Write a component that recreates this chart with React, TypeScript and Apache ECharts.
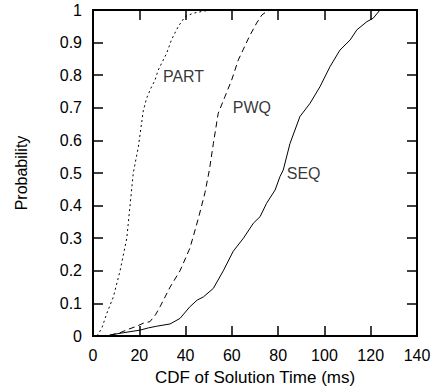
import React, { useEffect, useRef } from "react";
import * as echarts from "echarts";

const xMin = 0, xMax = 140, xStep = 20;
const yMin = 0, yMax = 1, yStep = 0.1;
const xTickValues = [0, 20, 40, 60, 80, 100, 120, 140];
const yTickValues = [0, 0.1, 0.2, 0.3, 0.4, 0.5, 0.6, 0.7, 0.8, 0.9, 1];

const partData: [number, number][] = [
  [1.7, 0], [3.8, 0.024], [6, 0.07], [8.8, 0.12], [11.7, 0.2], [14.6, 0.3],
  [17.4, 0.5], [19.6, 0.58], [21.7, 0.69], [23.2, 0.73], [25, 0.76], [26.8, 0.785],
  [28.2, 0.816], [31.8, 0.867], [34, 0.91], [36.9, 0.95], [39.8, 0.98],
  [43.3, 0.99], [48, 0.997], [52, 1.0],
];

const pwqData: [number, number][] = [
  [3, 0], [8, 0.004], [11.7, 0.01], [15, 0.02], [18.9, 0.03], [22, 0.04],
  [24.6, 0.044], [27, 0.065], [29, 0.09], [33.3, 0.15], [37.6, 0.2], [41.9, 0.27],
  [45.5, 0.36], [48.4, 0.44], [50.3, 0.51], [52, 0.59], [54.1, 0.683], [57, 0.734],
  [59.9, 0.785], [62.8, 0.847], [65, 0.88], [67.5, 0.918], [70.7, 0.96],
  [73, 0.985], [75, 0.995], [76.5, 1.0],
];

const seqData: [number, number][] = [
  [5.9, 0], [9, 0.005], [13.1, 0.01], [20.3, 0.018], [24, 0.025], [27.5, 0.03],
  [33.3, 0.037], [37.6, 0.054], [41.9, 0.09], [45, 0.11], [47.7, 0.12], [52, 0.146],
  [56.3, 0.2], [60.6, 0.26], [65, 0.3], [69.3, 0.346], [72.2, 0.366], [75, 0.407],
  [78.7, 0.448], [80.8, 0.489], [82.2, 0.509], [85.1, 0.59], [89.4, 0.673],
  [93.8, 0.714], [98.1, 0.765], [102.4, 0.826], [106.7, 0.877], [111.1, 0.908],
  [114, 0.939], [118.3, 0.964], [121.1, 0.975], [124, 1.0],
];

const seriesNames = ["PART", "PWQ", "SEQ"];
const labelPositions: [number, number][] = [[30.2, 0.797], [60.4, 0.7], [83.7, 0.5]];

const xTitle = "CDF of Solution Time (ms)";
const yTitle = "Probability";

const FONT = "'Liberation Sans', Arial, Helvetica, sans-serif";
const W = 436, H = 392;
const GRID = { left: 93, top: 10, right: 19, bottom: 56 };
const TICK_LEN = 10;

export default function App() {
  const ref = useRef<HTMLDivElement>(null);
  useEffect(() => {
    if (!ref.current) return;
    document.body.style.margin = "0";
    const chart = echarts.init(ref.current, null, { renderer: "svg" });
    const plotW = W - GRID.left - GRID.right;
    const plotH = H - GRID.top - GRID.bottom;
    const dX = ((xMax - xMin) * TICK_LEN) / plotW;
    const dY = ((yMax - yMin) * TICK_LEN) / plotH;
    const mirrorTicks: any[] = [];
    xTickValues.forEach((v) => {
      mirrorTicks.push({ coords: [[v, yMax], [v, yMax - dY]] });
    });
    yTickValues.forEach((v) => {
      mirrorTicks.push({ coords: [[xMax, v], [xMax - dX, v]] });
    });
    const axisLine = { show: true, lineStyle: { color: "#000", width: 2 } };
    const axisTick = { show: true, inside: true, length: TICK_LEN, lineStyle: { color: "#000", width: 1.5 } };
    const axisLabel = { color: "#000", fontSize: 16, fontFamily: FONT, margin: 11 };
    chart.setOption({
      animation: false,
      textStyle: { fontFamily: FONT },
      grid: { ...GRID, containLabel: false, show: true, borderColor: "#000", borderWidth: 2, backgroundColor: "transparent" },
      xAxis: {
        type: "value", position: "bottom", min: xMin, max: xMax, interval: xStep,
        axisLine, axisTick, axisLabel, splitLine: { show: false },
        name: xTitle, nameLocation: "middle", nameGap: 33,
        nameTextStyle: { color: "#000", fontSize: 17, fontFamily: FONT },
      },
      yAxis: {
        type: "value", position: "left", min: yMin, max: yMax, interval: yStep,
        axisLine, axisTick, axisLabel, splitLine: { show: false },
        name: yTitle, nameLocation: "middle", nameGap: 64,
        nameTextStyle: { color: "#000", fontSize: 16, fontFamily: FONT },
      },
      series: [
        {
          name: seriesNames[0], type: "line", data: partData, showSymbol: false, symbol: "none",
          lineStyle: { color: "#000", width: 1, type: [2, 3] },
        },
        {
          name: seriesNames[1], type: "line", data: pwqData, showSymbol: false, symbol: "none",
          lineStyle: { color: "#000", width: 1, type: [6, 4] },
        },
        {
          name: seriesNames[2], type: "line", data: seqData, showSymbol: false, symbol: "none",
          lineStyle: { color: "#000", width: 1, type: "solid" },
        },
        {
          type: "scatter",
          symbolSize: 0,
          data: labelPositions.map((p, i) => ({ value: p, name: seriesNames[i] })),
          label: {
            show: true, position: "right", distance: 0,
            formatter: (p: any) => p.name,
            color: "#000", fontSize: 16, fontFamily: FONT,
          },
          silent: true,
        },
        {
          type: "lines",
          coordinateSystem: "cartesian2d",
          silent: true,
          z: 5,
          data: mirrorTicks,
          lineStyle: { color: "#000", width: 1.5, opacity: 1, curveness: 0 },
          symbol: "none",
        },
      ],
    });
    return () => chart.dispose();
  }, []);
  return <div ref={ref} style={{ width: W, height: H }} />;
}
